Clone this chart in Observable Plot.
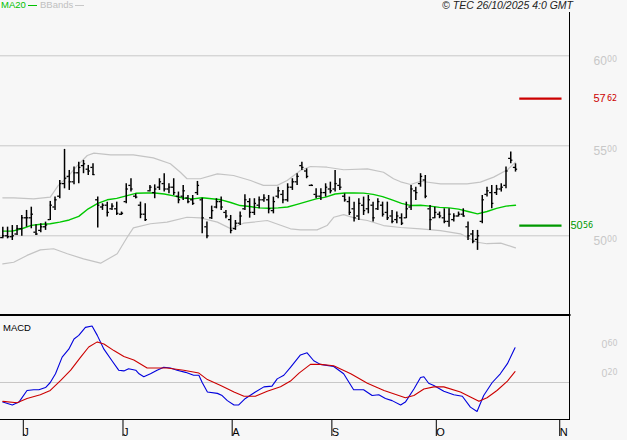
<!DOCTYPE html>
<html><head><meta charset="utf-8">
<script src="https://cdn.jsdelivr.net/npm/d3@7"></script>
<script src="https://cdn.jsdelivr.net/npm/@observablehq/plot@0.6"></script>
<style>
html,body{margin:0;padding:0;background:#f7f7f7;}
#wrap{position:relative;width:627px;height:440px;overflow:hidden;background:#f7f7f7;font-family:"Liberation Sans",Arial,sans-serif;}
#main{position:absolute;left:0;top:0;}
#macd{position:absolute;left:0;top:313px;}
.hdr{position:absolute;font-size:9.5px;line-height:10px;white-space:nowrap;}
.seg{display:inline-block;width:9px;height:0;vertical-align:middle;margin-left:2px;}
</style></head><body>
<div id="wrap">
  <div id="main"></div>
  <div id="macd"></div>
  <div class="hdr" style="left:1px;top:0px;color:#00c000">MA20<span class="seg" style="border-top:1.5px solid #00c000"></span></div>
  <div class="hdr" style="left:40px;top:0px;color:#c0c0c0">BBands<span class="seg" style="border-top:1.5px solid #c8c8c8"></span></div>
  <div class="hdr" style="right:54px;top:0px;color:#222;font-style:italic;font-size:10.5px">© TEC 26/10/2025 4:0 GMT</div>
  <div class="hdr" style="left:3px;top:323px;color:#000;font-size:9.5px">MACD</div>
</div>
<script>
// ---- data (trading-day index 0 = first bar) ----
const opens = [4990,5000,4995,5010,5040,5100,5100,5020,5030,5050, 5090,5160,5220,5290,5330,5300,5350,5390,5370,5380, 5200,5160,5170,5150,5150,5120,5190,5280,5220,5170, 5120,5250,5240,5270,5290,5260,5270,5220,5220,5210, 5200,5240,5200,5050,5100,5160,5190,5130,5090,5040, 5070,5150,5190,5130,5170,5200,5200,5140,5220,5230, 5200,5270,5300,5390,5360,5280,5230,5220,5240,5260, 5260,5280,5220,5190,5150,5110,5170,5150,5170,5150, 5170,5130,5110,5090,5100,5100,5160,5250,5290,5310, 5150,5100,5120,5100,5080,5090,5110,5120,5050,5010, 4980,5080,5230,5240,5240,5260,5280,5430,5380];
const highs = [5048,5048,5057,5057,5113,5141,5159,5061,5067,5076, 5191,5215,5307,5480,5363,5382,5409,5419,5391,5400, 5215,5178,5187,5178,5187,5132,5289,5317,5232,5187, 5178,5280,5283,5317,5345,5289,5317,5243,5280,5224, 5224,5302,5209,5076,5165,5206,5215,5141,5113,5085, 5132,5228,5206,5206,5215,5228,5224,5215,5270,5252, 5289,5317,5345,5409,5372,5283,5261,5261,5289,5298, 5363,5317,5233,5215,5187,5206,5215,5224,5187,5206, 5187,5187,5141,5132,5122,5187,5280,5270,5345,5335, 5169,5159,5132,5150,5150,5122,5132,5150,5076,5030, 5030,5224,5270,5280,5280,5289,5382,5465,5400];
const lows = [4983,4983,4974,5002,4998,5048,5039,5002,5017,5030, 5085,5141,5206,5261,5252,5283,5289,5345,5335,5335, 5043,5141,5104,5141,5113,5113,5178,5243,5205,5095, 5080,5243,5206,5252,5243,5233,5224,5178,5196,5178, 5169,5224,5011,4983,5091,5150,5141,5095,5011,5030, 5057,5141,5098,5113,5150,5187,5122,5122,5206,5178, 5187,5252,5280,5363,5317,5276,5206,5196,5215,5233, 5243,5252,5187,5113,5076,5085,5113,5122,5076,5141, 5104,5085,5067,5067,5057,5095,5141,5196,5270,5206, 5030,5095,5095,5067,5048,5076,5104,5104,4974,4956, 4919,5067,5215,5150,5224,5243,5261,5400,5354];
const closes = [5000,4995,5000,5040,5100,5100,5120,5010,5050,5060, 5170,5200,5290,5320,5300,5350,5380,5400,5360,5340, 5170,5170,5130,5165,5125,5125,5260,5260,5215,5120, 5090,5270,5260,5300,5260,5270,5240,5200,5250,5190, 5180,5280,5100,5000,5140,5190,5160,5110,5030,5070, 5110,5200,5130,5180,5200,5210,5150,5190,5250,5200, 5270,5300,5330,5380,5330,5280,5220,5240,5270,5250, 5290,5270,5200,5130,5100,5180,5140,5200,5100,5190, 5120,5100,5080,5110,5070,5150,5260,5240,5330,5220, 5090,5130,5110,5080,5120,5110,5120,5110,5000,4970, 5000,5200,5250,5180,5260,5270,5360,5420,5370];

const maIdx = [0,2,4,6,8,10,12,14,16,18,20,22,24,26,28,30,32,34,36,38,40,42,44,46,48,50,52,54,56,58,60,62,64,66,68,70,72,74,76,78,80,82,84,86,88,90,92,94,96,98,100,102,104,106,108];
const maVal = [5026,5026,5039,5058,5064,5067,5076,5088,5108,5150,5180,5200,5208,5222,5236,5238,5238,5232,5222,5210,5205,5211,5206,5200,5185,5168,5163,5155,5153,5155,5160,5175,5190,5205,5215,5232,5238,5238,5237,5230,5218,5200,5180,5168,5170,5165,5158,5155,5148,5135,5122,5135,5152,5165,5170];

const bbUpIdx = [0,2.3,6.5,10,11.7,13.6,15.7,17.8,19.2,22.7,27.5,31.7,35.3,37.4,38.8,41.6,45.2,48.6,52.2,54.9,57.8,59.9,62.7,64.8,68.3,71.8,76.8,80.2,82.3,83.8,85.9,88,92.2,97.8,100.6,103.4,106.3,108];
const bbUpVal = [5211,5211,5205,5215,5280,5326,5390,5446,5459,5450,5450,5433,5400,5353,5317,5317,5344,5335,5307,5280,5280,5307,5363,5385,5381,5367,5372,5353,5317,5300,5285,5303,5289,5289,5298,5326,5367,5409];
const bbLoIdx = [0,2.3,5.1,7.9,10.7,13.6,17,20.6,24.1,26.2,27.5,31.1,34.6,38.8,41.6,45.2,48,50.7,55.7,60.6,62.7,66.2,68.3,69.7,71.8,74.7,76.8,80.2,83.8,88,92.2,96.4,99.9,102,104.9,108];
const bbLoVal = [4844,4853,4891,4922,4928,4900,4872,4848,4900,4992,5044,5067,5076,5103,5100,5076,5040,5070,5085,5039,5033,5033,5057,5103,5118,5094,5085,5057,5046,5039,5029,5011,4964,4956,4959,4933];

const macdIdx = [0,2,3.4,5.1,6.5,7.6,9,10,11.1,12.5,13.9,15,16,17.4,18.8,19.9,21.3,23,24.4,25.5,26.5,28,28.7,29.7,31.1,32.5,33.9,35.3,36.7,38.5,40.2,41.3,42,43.1,45.2,46.2,47.3,48.7,49.7,51.1,53.2,55,56.7,57.8,59.2,60.6,62.7,64.1,65.5,66.9,69.7,71.8,73.9,76,77.8,79.2,80.6,82,83.8,84.8,86.6,88,88.7,89.7,90.8,92.9,95,96.8,98.5,99.9,101.3,103.1,104.8,106.3,107.9];
const macdVal = [-0.27,-0.31,-0.27,-0.11,-0.10,-0.10,-0.07,0.0,0.12,0.35,0.46,0.60,0.65,0.76,0.78,0.65,0.46,0.30,0.17,0.16,0.19,0.17,0.12,0.08,0.12,0.17,0.21,0.20,0.17,0.14,0.10,0.10,0.0,-0.13,-0.15,-0.18,-0.25,-0.31,-0.31,-0.22,-0.13,-0.06,-0.05,0.05,0.10,0.21,0.38,0.41,0.30,0.25,0.22,0.12,-0.10,-0.10,-0.18,-0.17,-0.22,-0.25,-0.31,-0.27,-0.09,0.07,0.08,-0.01,-0.04,-0.12,-0.17,-0.19,-0.34,-0.40,-0.18,0.0,0.12,0.26,0.48];
const signalIdx = [0,3,5.1,7.9,10,12.2,14.3,16.4,18.1,19.9,21.3,23.4,25.5,27.6,30.4,34.6,38.1,41.3,43.1,45.9,48.7,50.8,53.2,55.7,58.5,60.6,62.4,64.8,66.9,69.7,73.3,76.8,80.3,84.8,86.6,88.7,90.8,92.9,96.4,98.5,100.3,102,104.1,106.3,107.9];
const signalVal = [-0.26,-0.28,-0.22,-0.17,-0.11,0.03,0.17,0.35,0.49,0.56,0.53,0.44,0.36,0.31,0.20,0.20,0.17,0.13,0.04,-0.04,-0.13,-0.19,-0.19,-0.12,-0.06,0.02,0.13,0.25,0.25,0.23,0.12,-0.01,-0.11,-0.21,-0.18,-0.09,-0.06,-0.06,-0.13,-0.20,-0.26,-0.21,-0.11,0.02,0.15];

const gridLevels = [5000, 5500, 6000];
const macdTicks = [0.20, 0.60];
const targetHigh = 5762;
const targetLow = 5056;
const targetSpan = [108.9, 117.8];
const monthTickIdx = [4, 25, 48, 69, 91, 117];
const monthLabels = ["J", "J", "A", "S", "O", "N"];

// ---- build ----
const bars = highs.map((h, i) => ({i, open: opens[i], high: h, low: lows[i], close: closes[i]}));
const xDef = {domain: [0, 108], range: [2.31, 515], axis: null};
const grey = "#c8c8c8";
const big = v => String(v).slice(0, 2);
const small = v => String(v).slice(2);

const main = Plot.plot({
  width: 627, height: 316, marginTop: 12, marginRight: 58, marginBottom: 0, marginLeft: 0,
  style: {background: "transparent", overflow: "visible", fontFamily: "Liberation Sans, Arial, sans-serif"},
  x: xDef,
  y: {domain: [5000, 6000], range: [235.3, 55.3], axis: null},
  marks: [
    Plot.ruleY(gridLevels, {stroke: grey, strokeWidth: 1}),
    Plot.line(bbUpIdx, {x: d => d, y: (d, i) => bbUpVal[i], stroke: "#c4c4c4", strokeWidth: 1.2}),
    Plot.line(bbLoIdx, {x: d => d, y: (d, i) => bbLoVal[i], stroke: "#c4c4c4", strokeWidth: 1.2}),
    Plot.line(maIdx, {x: d => d, y: (d, i) => maVal[i], stroke: "#00c800", strokeWidth: 1.4}),
    Plot.ruleX(bars, {x: "i", y1: "low", y2: "high", stroke: "#000", strokeWidth: 1.5}),
    Plot.ruleY(bars, {y: "open", x1: d => d.i - 0.45, x2: "i", stroke: "#000", strokeWidth: 1.3}),
    Plot.ruleY(bars, {y: "close", x1: "i", x2: d => d.i + 0.45, stroke: "#000", strokeWidth: 1.3}),
    Plot.ruleY([targetHigh], {x1: targetSpan[0], x2: targetSpan[1], stroke: "#cc0000", strokeWidth: 2.2}),
    Plot.ruleY([targetLow], {x1: targetSpan[0], x2: targetSpan[1], stroke: "#009900", strokeWidth: 2.2}),
    Plot.frame({anchor: "right", stroke: "#000"}),
    // axis labels
    Plot.text(gridLevels, {y: d => d, text: big, frameAnchor: "right", dx: 24, textAnchor: "start", lineAnchor: "top", dy: 0.5, fontSize: 12, fill: grey}),
    Plot.text(gridLevels, {y: d => d, text: small, frameAnchor: "right", dx: 37.5, textAnchor: "start", lineAnchor: "top", dy: 0.5, fontSize: 8, fontFamily: "DejaVu Sans", fill: grey}),
    Plot.text([targetHigh], {y: d => d, text: big, frameAnchor: "right", dx: 24, textAnchor: "start", fontSize: 11, fill: "#cc0000"}),
    Plot.text([targetHigh], {y: d => d, text: small, frameAnchor: "right", dx: 37.5, textAnchor: "start", lineAnchor: "top", dy: -3.8, fontSize: 8, fontFamily: "DejaVu Sans", fill: "#cc0000"}),
    Plot.text([targetLow], {y: d => d, text: big, frameAnchor: "right", dx: 1, textAnchor: "start", fontSize: 11, fill: "#009900"}),
    Plot.text([targetLow], {y: d => d, text: small, frameAnchor: "right", dx: 13.5, textAnchor: "start", lineAnchor: "top", dy: -3.8, fontSize: 8, fontFamily: "DejaVu Sans", fill: "#009900"})
  ]
});
document.getElementById("main").appendChild(main);

const macd = Plot.plot({
  width: 627, height: 127, marginTop: 1.5, marginRight: 58, marginBottom: 21, marginLeft: 0,
  style: {background: "transparent", overflow: "visible", color: "#000", fontFamily: "Liberation Sans, Arial, sans-serif"},
  x: xDef,
  y: {domain: [0, 0.6], range: [69, 25.5], axis: null},
  marks: [
    Plot.ruleY([0], {stroke: grey}),
    Plot.line(macdIdx, {x: d => d, y: (d, i) => macdVal[i], stroke: "#0000dd", strokeWidth: 1.1}),
    Plot.line(signalIdx, {x: d => d, y: (d, i) => signalVal[i], stroke: "#cc0000", strokeWidth: 1.1}),
    Plot.frame({anchor: "top", stroke: "#000", strokeWidth: 2}),
    Plot.frame({anchor: "bottom", stroke: "#000"}),
    Plot.frame({anchor: "right", stroke: "#000"}),
    Plot.axisX(monthTickIdx, {anchor: "bottom", tickSize: 17, tickPadding: -8, textAnchor: "start", dx: 1.5, fontSize: 11,
      tickFormat: d => monthLabels[monthTickIdx.indexOf(d)]}),
    Plot.text(macdTicks, {y: d => d, text: d => "0", frameAnchor: "right", dx: 32, textAnchor: "start", lineAnchor: "top", dy: 1.5, fontSize: 10.5, fill: grey}),
    Plot.text(macdTicks, {y: d => d, text: d => d3.format(".2f")(d).slice(2), frameAnchor: "right", dx: 38, textAnchor: "start", lineAnchor: "top", dy: 1.5, fontSize: 8, fontFamily: "DejaVu Sans", fill: grey})
  ]
});
document.getElementById("macd").appendChild(macd);
</script>
</body></html>
